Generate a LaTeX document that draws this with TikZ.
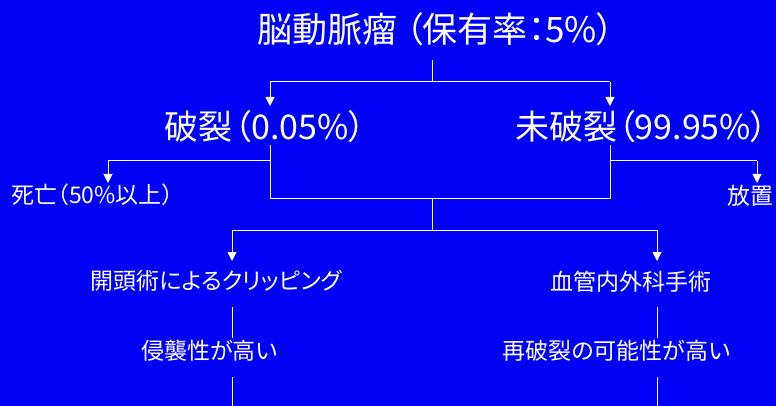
\documentclass[tikz,border=0pt]{standalone}
\usepackage{fontspec}
\setmainfont[RawFeature=+palt]{Noto Sans CJK JP}
\usetikzlibrary{arrows.meta}
\definecolor{bg}{RGB}{0,0,245}
\begin{document}
\begin{tikzpicture}[x=1pt,y=-1pt,
 big/.style={text=white,inner sep=0pt,font=\fontsize{35}{40}\selectfont},
 mid/.style={text=white,inner sep=0pt,font=\fontsize{34}{40}\selectfont},
 small/.style={text=white,inner sep=0pt,font=\fontsize{23}{27}\selectfont},
 conn/.style={draw=white,line width=1pt},
 arr/.style={conn,-{Triangle[width=9pt,length=9pt]}}]
\fill[bg] (0,0) rectangle (776,406);
\useasboundingbox (0,0) rectangle (776,406);
% nodes
\node[big] (title) at (436,29) {脳動脈瘤 （保有率：5\%）};
\node[mid] (rup) at (265,127) {破裂\kern2pt（0.05\%）};
\node[mid] (unrup) at (642,127) {未破裂（99.95\%）};
\node[small] (death) at (92.5,195) {死亡（50\%以上）};
\node[small] (leave) at (750,196) {放置};
\node[small] (clip) at (216.5,281) {開頭術によるクリッピング};
\node[small] (inv) at (209.5,351) {侵襲性が高い};
\node[small] (endo) at (631,282) {血管内外科手術};
\node[small] (rer) at (616.5,351) {再破裂の可能性が高い};
% junction coordinates
\coordinate (t0) at (432,60);
\coordinate (t1) at (432,82);
\coordinate (tl) at (270,82);
\coordinate (tr) at (610,82);
\coordinate (tla) at (270,106);
\coordinate (tra) at (610,106);
\coordinate (r0) at (270,145);
\coordinate (rb) at (270,161);
\coordinate (rm) at (270,199);
\coordinate (um) at (610,199);
\coordinate (u0) at (610,145);
\coordinate (ub) at (610,161);
\coordinate (dl) at (108,161);
\coordinate (da) at (108,183);
\coordinate (lr) at (757,161);
\coordinate (la) at (757,183);
\coordinate (m0) at (432,199);
\coordinate (m1) at (432,230);
\coordinate (ml) at (232,230);
\coordinate (mr) at (657,230);
\coordinate (mla) at (232,261);
\coordinate (mra) at (657,261);
\coordinate (c0) at (232,307);
\coordinate (c1) at (232,338);
\coordinate (c2) at (232,377);
\coordinate (c3) at (232,406);
\coordinate (e0) at (657,307);
\coordinate (e1) at (657,338);
\coordinate (e2) at (657,377);
\coordinate (e3) at (657,406);
% connectors
\draw[conn] (t0) -- (t1);
\draw[conn] (tl) -- (tr);
\draw[arr] (tl) -- (tla);
\draw[arr] (tr) -- (tra);
\draw[conn] (r0) -- (rm) -- (um) -- (u0);
\draw[conn] (rb) -- (dl);
\draw[arr] (dl) -- (da);
\draw[conn] (ub) -- (lr);
\draw[arr] (lr) -- (la);
\draw[conn] (m0) -- (m1);
\draw[conn] (ml) -- (mr);
\draw[arr] (ml) -- (mla);
\draw[arr] (mr) -- (mra);
\draw[conn] (c0) -- (c1);
\draw[conn] (c2) -- (c3);
\draw[conn] (e0) -- (e1);
\draw[conn] (e2) -- (e3);
\end{tikzpicture}
\end{document}
